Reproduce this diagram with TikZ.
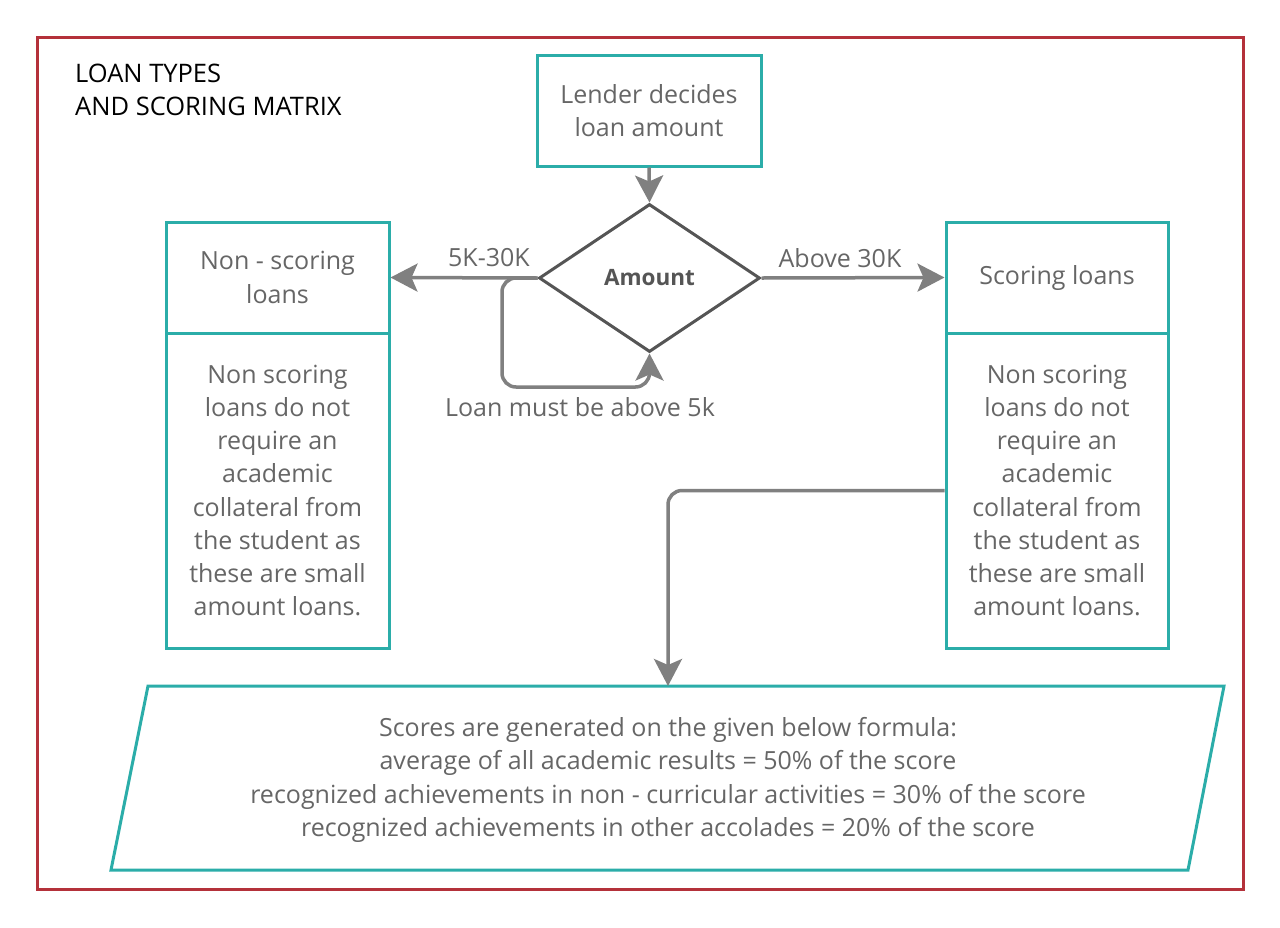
\documentclass[tikz,border=0pt]{standalone}
\usepackage{fontspec}
\setmainfont{Open Sans}
\usetikzlibrary{shapes.geometric,arrows.meta}
\definecolor{teal1}{HTML}{2BADA9}
\definecolor{arrowgray}{HTML}{808080}
\definecolor{txtgray}{HTML}{666666}
\definecolor{diagray}{HTML}{555555}
\definecolor{framered}{HTML}{B4313A}
\begin{document}
\begin{tikzpicture}[x=1pt,y=-1pt,
  box/.style={draw=teal1,line width=3pt,rectangle,inner sep=0pt,align=center,text=txtgray,font=\fontsize{25}{33.2}\selectfont},
  conn/.style={draw=arrowgray,line width=3.5pt,-{Stealth[length=27pt,width=28pt,inset=6pt]}},
  lbl/.style={text=txtgray,font=\fontsize{25}{33.6}\selectfont,inner sep=0pt}]
\useasboundingbox (0,0) rectangle (1280,927);
\fill[white] (0,0) rectangle (1280,927);
\draw[framered,line width=3pt] (37,37) rectangle (1243,889);
\node[anchor=west,align=left,inner sep=0pt,font=\fontsize{25.5}{33}\selectfont] (title) at (75,90) {LOAN TYPES\\AND SCORING MATRIX};
% top box
\node[box,minimum width=224pt,minimum height=111pt] (lender) at (649,110.5) {Lender decides\\loan amount};
% diamond
\node[diamond,draw=diagray,line width=3pt,minimum width=221pt,minimum height=148pt,inner sep=0pt,text=diagray,font=\fontsize{22.5}{26}\selectfont\bfseries] (dia) at (649.5,278) {Amount};
% left box
\node[box,minimum width=223pt,minimum height=111pt] (ltop) at (277.5,277.5) {Non - scoring\\loans};
\node[box,minimum width=223pt,minimum height=315pt] (lbody) at (277.5,490.5) {Non scoring\\loans do not\\require an\\academic\\collateral from\\the student as\\these are small\\amount loans.};
% right box
\node[box,minimum width=222pt,minimum height=111pt] (rtop) at (1057,277.5) {Scoring loans};
\node[box,minimum width=222pt,minimum height=315pt] (rbody) at (1057,490.5) {Non scoring\\loans do not\\require an\\academic\\collateral from\\the student as\\these are small\\amount loans.};
% parallelogram
\draw[teal1,line width=3pt,line join=miter] (148,686) -- (1224,686) -- (1188,870) -- (111,870) -- cycle;
\coordinate (paratop) at (668,686);
\node[lbl,align=center] (formula) at (668,780) {Scores are generated on the given below formula:\\average of all academic results = 50\% of the score\\recognized achievements in non - curricular activities = 30\% of the score\\recognized achievements in other accolades = 20\% of the score};
% connectors
\draw[conn] (lender.south) -- (dia.north);
\draw[conn] (dia.west) -- (ltop.east);
\draw[conn] (dia.east) -- (rtop.west);
\coordinate (loopc) at (502,387);
\draw[conn,rounded corners=14pt] (dia.west) -| (loopc) -| (dia.south);
\draw[conn,rounded corners=14pt] (rbody.west) -| (paratop);
% labels
\node[lbl] (l1) at (489,258) {5K-30K};
\node[lbl] (l2) at (840,258) {Above 30K};
\node[lbl] (l3) at (580,407) {Loan must be above 5k};
\end{tikzpicture}
\end{document}
